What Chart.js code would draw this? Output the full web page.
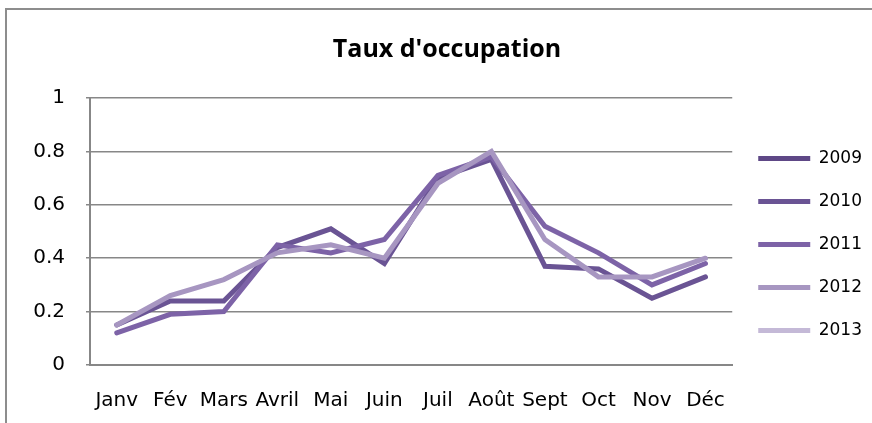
<!DOCTYPE html>
<html>
<head>
<meta charset="utf-8">
<script src="https://cdn.jsdelivr.net/npm/chart.js@4.4.0/dist/chart.umd.min.js"></script>
<style>
  html, body { margin: 0; padding: 0; background: #fff; overflow: hidden; }
  #frame { position: absolute; left: 5px; top: 8px; width: 900px; height: 450px; border: 2px solid #8d8d8d; }
  #occChart { position: absolute; left: 0; top: 0; }
</style>
</head>
<body>
<div id="frame"></div>
<canvas id="occChart" width="872" height="423"></canvas>
<script>
// months on the x axis
const months = ['Janv', 'Fév', 'Mars', 'Avril', 'Mai', 'Juin', 'Juil', 'Août', 'Sept', 'Oct', 'Nov', 'Déc'];

// occupation rate per year (2009 and 2013 show no visible line in the picture)
const rate2009 = [];
const rate2010 = [0.15, 0.24, 0.24, 0.44, 0.51, 0.38, 0.70, 0.77, 0.37, 0.36, 0.25, 0.33];
const rate2011 = [0.12, 0.19, 0.20, 0.45, 0.42, 0.47, 0.71, 0.78, 0.52, 0.42, 0.30, 0.38];
const rate2012 = [0.15, 0.26, 0.32, 0.42, 0.45, 0.40, 0.68, 0.80, 0.47, 0.33, 0.33, 0.40];
const rate2013 = [];

const yTicks = [0, 0.2, 0.4, 0.6, 0.8, 1];

// series look
function serie(label, data, color, order) {
    return {
        label: label,
        data: data,
        borderColor: color,
        backgroundColor: color,
        borderWidth: 5,
        borderCapStyle: 'round',
        pointRadius: 0,
        pointHoverRadius: 0,
        tension: 0,
        fill: false,
        order: order
    };
}

const ctx = document.getElementById('occChart').getContext('2d');
new Chart(ctx, {
    type: 'line',
    data: {
        labels: months,
        datasets: [
            serie('2009', rate2009, '#5e4886', 5),
            serie('2010', rate2010, '#6a5494', 4),
            serie('2011', rate2011, '#7d63a7', 3),
            serie('2012', rate2012, '#a796c1', 2),
            serie('2013', rate2013, '#c4b9d7', 1)
        ]
    },
    options: {
        responsive: false,
        animation: false,
        // the x axis reserves extra room below its labels, hence the negative bottom
        layout: { padding: { left: 22, right: 0, top: 0, bottom: -14 } },
        plugins: {
            title: {
                display: true,
                text: "Taux d'occupation",
                color: '#000',
                font: { family: 'Open Sans', size: 25, weight: 'bold' },
                padding: { top: 35, bottom: 33 }
            },
            legend: {
                position: 'right',
                align: 'end',
                fullSize: false,
                labels: {
                    sort: (a, b) => a.datasetIndex - b.datasetIndex,
                    usePointStyle: true,
                    pointStyle: 'line',
                    pointStyleWidth: 52,
                    padding: 26,
                    color: '#000',
                    font: { family: 'DejaVu Sans', size: 17 }
                }
            },
            tooltip: { enabled: false }
        },
        scales: {
            x: {
                offset: true,
                grid: { display: false, drawTicks: false },
                border: { display: true, color: '#878787', width: 2 },
                ticks: {
                    color: '#000',
                    padding: 24,
                    maxRotation: 0,
                    autoSkip: false,
                    font: { family: 'DejaVu Sans', size: 20 }
                }
            },
            y: {
                min: 0,
                max: 1,
                afterBuildTicks: (axis) => { axis.ticks = yTicks.map(v => ({ value: v })); },
                afterFit: (axis) => { axis.width = 68; },
                grid: { color: '#878787', lineWidth: 1.5, tickLength: 4 },
                border: { display: true, color: '#878787', width: 2 },
                ticks: {
                    color: '#000',
                    padding: 21,
                    font: { family: 'DejaVu Sans', size: 20 },
                    callback: (v) => String(v)
                }
            }
        }
    }
});
</script>
</body>
</html>
